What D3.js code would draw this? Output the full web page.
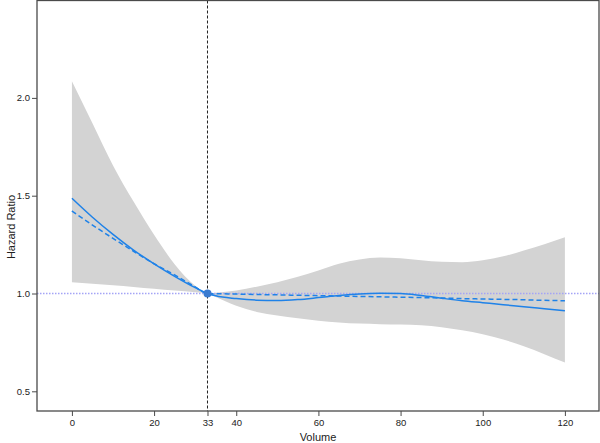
<!DOCTYPE html>
<html>
<head>
<meta charset="utf-8">
<script src="https://cdn.jsdelivr.net/npm/d3@7"></script>
<style>
html,body{margin:0;padding:0;background:#fff;}
svg{display:block;}
text{font-family:"Liberation Sans",Arial,sans-serif;}
</style>
</head>
<body>
<svg id="chart" width="600" height="443"></svg>
<script>
// ---- data ----
const refVolume = 33;
const xTicks = [0, 20, 33, 40, 60, 80, 100, 120];
const yTicks = [0.5, 1.0, 1.5, 2.0];

const volume    = [0, 5, 10, 15, 20, 25, 30, 33, 35, 40, 45, 50, 55, 60, 65, 70, 75, 80, 85, 90, 95, 100, 105, 110, 115, 120];
const hrSpline  = [1.487, 1.39, 1.302, 1.222, 1.152, 1.088, 1.03, 1.0, 0.988, 0.974, 0.966, 0.964, 0.969, 0.979, 0.99, 0.998, 1.001, 1.0, 0.99, 0.976, 0.963, 0.953, 0.943, 0.932, 0.922, 0.912];
const hrLinear  = [1.422, 1.35, 1.282, 1.216, 1.152, 1.095, 1.034, 1.0, 0.999, 0.997, 0.995, 0.993, 0.991, 0.989, 0.987, 0.985, 0.983, 0.981, 0.979, 0.977, 0.974, 0.972, 0.970, 0.968, 0.965, 0.963];
const ciUpper   = [2.085, 1.87, 1.655, 1.47, 1.30, 1.15, 1.04, 1.0, 1.004, 1.015, 1.035, 1.058, 1.085, 1.118, 1.152, 1.174, 1.184, 1.18, 1.17, 1.162, 1.16, 1.17, 1.19, 1.22, 1.252, 1.287];
const ciLower   = [1.058, 1.05, 1.042, 1.033, 1.024, 1.015, 1.006, 1.0, 0.982, 0.937, 0.906, 0.887, 0.873, 0.861, 0.852, 0.846, 0.843, 0.841, 0.838, 0.828, 0.812, 0.792, 0.765, 0.73, 0.69, 0.647];

// ---- layout ----
const svg = d3.select("#chart");
const m = {left: 37, top: 0.5, right: 599, bottom: 411};

const x = d3.scaleLinear().domain([-8.5, 128.3]).range([m.left, m.right]);
const y = d3.scaleLinear()
  .domain([1.0 - (m.bottom - 293.5) / 195.6, 1.0 + (293.5 - m.top) / 195.6])
  .range([m.bottom, m.top]);

const rows = volume.map((v, i) => ({v, s: hrSpline[i], l: hrLinear[i], u: ciUpper[i], lo: ciLower[i]}));

const g = svg.append("g");

// CI band
g.append("path")
  .datum(rows)
  .attr("fill", "#d3d3d3")
  .attr("d", d3.area().x(d => x(d.v)).y0(d => y(d.lo)).y1(d => y(d.u)).curve(d3.curveMonotoneX));

// reference lines
g.append("line")
  .attr("x1", m.left).attr("x2", m.right)
  .attr("y1", y(1)).attr("y2", y(1))
  .attr("stroke", "#a4a4f6").attr("stroke-width", 1.3).attr("stroke-dasharray", "1.5,1.5");

g.append("line")
  .attr("x1", x(refVolume)).attr("x2", x(refVolume))
  .attr("y1", m.top).attr("y2", m.bottom)
  .attr("stroke", "#222").attr("stroke-width", 1).attr("stroke-dasharray", "3,2");

// lines
g.append("path")
  .datum(rows)
  .attr("fill", "none").attr("stroke", "#1f82e8").attr("stroke-width", 1.5)
  .attr("stroke-dasharray", "5,3")
  .attr("d", d3.line().x(d => x(d.v)).y(d => y(d.l)).curve(d3.curveMonotoneX));

g.append("path")
  .datum(rows)
  .attr("fill", "none").attr("stroke", "#1f82e8").attr("stroke-width", 1.5)
  .attr("d", d3.line().x(d => x(d.v)).y(d => y(d.s)).curve(d3.curveMonotoneX));

// reference point
g.append("circle")
  .attr("cx", x(refVolume)).attr("cy", y(1)).attr("r", 4)
  .attr("fill", "#3a7bd0");

// box
svg.append("rect")
  .attr("x", m.left).attr("y", m.top)
  .attr("width", m.right - m.left).attr("height", m.bottom - m.top)
  .attr("fill", "none").attr("stroke", "#4a4a4a").attr("stroke-width", 1.3);

// axes
const xAxis = svg.append("g")
  .attr("transform", `translate(0,${m.bottom})`)
  .call(d3.axisBottom(x).tickValues(xTicks).tickFormat(d3.format("d")).tickSize(5).tickPadding(3));
xAxis.select(".domain").remove();

const yAxis = svg.append("g")
  .attr("transform", `translate(${m.left},0)`)
  .call(d3.axisLeft(y).tickValues(yTicks).tickFormat(d3.format(".1f")).tickSize(5).tickPadding(2));
yAxis.select(".domain").remove();

svg.selectAll(".tick line").attr("stroke", "#4a4a4a");
svg.selectAll(".tick text").attr("fill", "#222").style("font-size", "9.5px")
  .style("font-family", "'Liberation Sans', Arial, sans-serif");

// titles
svg.append("text")
  .attr("x", (m.left + m.right) / 2).attr("y", 441)
  .attr("text-anchor", "middle").attr("fill", "#222")
  .style("font-size", "11px").text("Volume");

svg.append("text")
  .attr("transform", "translate(15,227) rotate(-90)")
  .attr("text-anchor", "middle").attr("fill", "#222")
  .style("font-size", "11px").text("Hazard Ratio");
</script>
</body>
</html>
